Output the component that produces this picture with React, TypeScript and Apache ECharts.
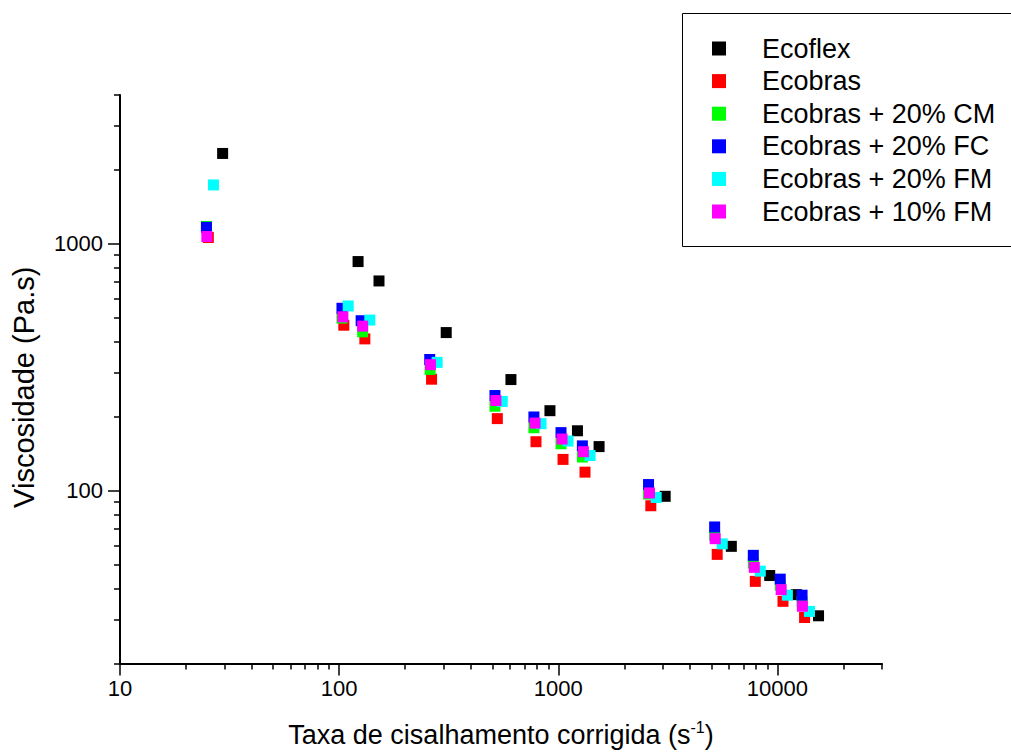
import React, { useEffect, useRef } from 'react';
import * as echarts from 'echarts';

// Flow curves: viscosity vs. corrected shear rate, log-log
const seriesNames = [
  'Ecoflex',
  'Ecobras',
  'Ecobras + 20% CM',
  'Ecobras + 20% FC',
  'Ecobras + 20% FM',
  'Ecobras + 10% FM',
];
const seriesColors = ['#000000', '#ff0000', '#00ff00', '#0000ff', '#00ffff', '#ff00ff'];

const ecoflexRate = [29.4, 122, 152, 308, 608, 916, 1223, 1535, 3074, 6160, 9220, 12200, 15400];
const ecoflexVisc = [2320, 847, 707, 437, 282, 211, 175, 151, 95, 59.6, 45.4, 38, 31.2];

const ecobrasRate = [25.3, 105, 131, 264, 527, 791, 1051, 1324, 2644, 5310, 7925, 10600, 13300];
const ecobrasVisc = [1060, 468, 412, 283, 196, 158, 134, 119, 87, 55.3, 43, 35.7, 30.7];

const cm20Rate = [24.8, 103, 128, 260, 514, 774, 1029, 1288, 2581, 5170, 7760, 10300, 12950];
const cm20Visc = [1175, 500, 440, 310, 220, 180, 155, 137, 97, 66, 51, 41.5, 35.5];

const fc20Rate = [24.8, 103, 126, 259, 514, 774, 1029, 1288, 2581, 5170, 7760, 10300, 12950];
const fc20Visc = [1165, 548, 488, 340, 243, 199, 172, 152, 106, 71.4, 54.8, 43.9, 37.8];

const fm20Rate = [26.7, 110, 138, 280, 555, 834, 1107, 1396, 2796, 5600, 8350, 11100, 14000];
const fm20Visc = [1730, 560, 491, 331, 230, 187, 159, 139, 94, 61, 47.3, 37.8, 32.5];

const fm10Rate = [24.9, 104, 128, 261, 519, 783, 1040, 1302, 2606, 5200, 7840, 10400, 13000];
const fm10Visc = [1070, 506, 464, 324, 232, 188, 162, 144, 98, 64, 49, 39.8, 34.1];

const seriesRates = [ecoflexRate, ecobrasRate, cm20Rate, fc20Rate, fm20Rate, fm10Rate];
const seriesViscs = [ecoflexVisc, ecobrasVisc, cm20Visc, fc20Visc, fm20Visc, fm10Visc];

const xMajorTicks = [10, 100, 1000, 10000];
const xMinorTicks = [
  20, 30, 40, 50, 60, 70, 80, 90,
  200, 300, 400, 500, 600, 700, 800, 900,
  2000, 3000, 4000, 5000, 6000, 7000, 8000, 9000,
  20000, 30000,
];
const yMajorTicks = [100, 1000];
const yMinorTicks = [
  20, 30, 40, 50, 60, 70, 80, 90,
  200, 300, 400, 500, 600, 700, 800, 900,
  2000, 3000, 4000,
];

const FONT = 'Liberation Sans, Arial, sans-serif';
const INK = '#000000';

export default function App() {
  const ref = useRef<HTMLDivElement>(null);

  useEffect(() => {
    if (!ref.current) return;
    const chart = echarts.init(ref.current, undefined, { renderer: 'svg' });

    const fmt = (v: number) => String(Math.round(v));

    const option = {
      animation: false,
      backgroundColor: '#ffffff',
      textStyle: { fontFamily: FONT, color: INK },
      grid: { left: 120, top: 95, right: 129, bottom: 89, containLabel: false },
      // legend frame runs past the right edge of the canvas
      graphic: [
        {
          type: 'rect',
          shape: { x: 682.5, y: 13.5, width: 400, height: 233 },
          style: { fill: 'none', stroke: INK, lineWidth: 1 },
          silent: true,
        },
      ],
      legend: {
        data: seriesNames,
        orient: 'vertical',
        left: 682,
        top: 13,
        padding: [22, 10, 21, 30],
        itemWidth: 14,
        itemHeight: 14,
        itemGap: 5.6,
        icon: 'rect',
        selectedMode: false,
        textStyle: {
          fontFamily: FONT,
          fontSize: 27,
          lineHeight: 26,
          color: INK,
          padding: [0, 0, 0, 31],
        },
      },
      xAxis: [
        {
          type: 'log',
          logBase: 10,
          min: 10,
          max: 30000,
          position: 'bottom',
          name: '{t|Taxa de cisalhamento corrigida (s}{s|-1}{t|)}',
          nameLocation: 'middle',
          nameGap: 56,
          nameTextStyle: {
            rich: {
              t: { fontFamily: FONT, fontSize: 27, color: INK, lineHeight: 30 },
              s: { fontFamily: FONT, fontSize: 16, color: INK, lineHeight: 30, verticalAlign: 'top', padding: [0, 0, 10, 0] },
            },
          },
          axisLine: { show: true, lineStyle: { color: INK, width: 2 } },
          axisTick: { show: true, length: 12, lineStyle: { color: INK, width: 1.5 }, customValues: xMajorTicks },
          axisLabel: {
            customValues: xMajorTicks,
            margin: 14,
            fontFamily: FONT,
            fontSize: 22,
            color: INK,
            formatter: fmt,
          },
          splitLine: { show: false },
          minorTick: { show: false },
        },
        {
          type: 'log',
          logBase: 10,
          min: 10,
          max: 30000,
          position: 'bottom',
          axisLine: { show: false },
          axisTick: { show: true, length: 6, lineStyle: { color: INK, width: 1.5 }, customValues: xMinorTicks },
          axisLabel: { show: false },
          splitLine: { show: false },
        },
      ],
      yAxis: [
        {
          type: 'log',
          logBase: 10,
          min: 20,
          max: 4000,
          position: 'left',
          name: 'Viscosidade (Pa.s)',
          nameLocation: 'middle',
          nameGap: 82,
          nameTextStyle: { fontFamily: FONT, fontSize: 29, color: INK, padding: [0, 16, 0, 0] },
          axisLine: { show: true, lineStyle: { color: INK, width: 2 } },
          axisTick: { show: true, length: 12, lineStyle: { color: INK, width: 1.5 }, customValues: yMajorTicks },
          axisLabel: {
            customValues: yMajorTicks,
            margin: 17,
            fontFamily: FONT,
            fontSize: 22,
            color: INK,
            formatter: fmt,
          },
          splitLine: { show: false },
          minorTick: { show: false },
        },
        {
          type: 'log',
          logBase: 10,
          min: 20,
          max: 4000,
          position: 'left',
          axisLine: { show: false },
          axisTick: { show: true, length: 6, lineStyle: { color: INK, width: 1.5 }, customValues: yMinorTicks },
          axisLabel: { show: false },
          splitLine: { show: false },
        },
      ],
      series: seriesNames.map((name, i) => ({
        name,
        type: 'scatter',
        xAxisIndex: 0,
        yAxisIndex: 0,
        symbol: 'rect',
        symbolSize: 11,
        itemStyle: { color: seriesColors[i], opacity: 1 },
        data: seriesRates[i].map((x, j) => [x, seriesViscs[i][j]]),
      })),
    };

    chart.setOption(option);
    return () => chart.dispose();
  }, []);

  return (
    <div
      ref={ref}
      style={{ position: 'fixed', left: 0, top: 0, width: 1011, height: 753, background: '#ffffff' }}
    />
  );
}
